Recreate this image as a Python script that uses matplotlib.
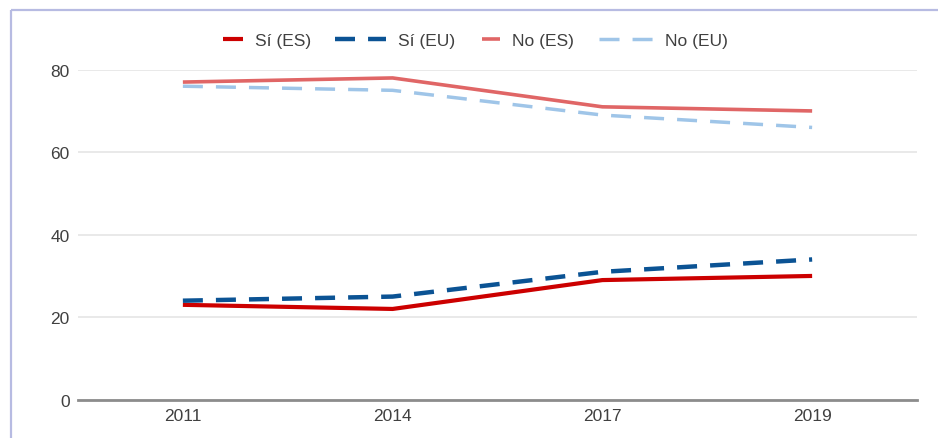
import matplotlib
matplotlib.use("Agg")
import matplotlib.pyplot as plt
from matplotlib.lines import Line2D

plt.rcParams['font.family'] = ['Liberation Sans', 'DejaVu Sans']
plt.rcParams['lines.scale_dashes'] = False

years = ["2011", "2014", "2017", "2019"]
si_es = [23, 22, 29, 30]
si_eu = [24, 25, 31, 34]
no_es = [77, 78, 71, 70]
no_eu = [76, 75, 69, 66]
labels = ["Sí (ES)", "Sí (EU)", "No (ES)", "No (EU)"]
yticks = [0, 20, 40, 60, 80]

W, H = 938, 439
fig = plt.figure(figsize=(W / 100, H / 100), dpi=100)
fig.patch.set_facecolor("white")

ax = fig.add_axes([78 / W, (H - 400.7) / H, (917 - 78) / W, 330 / H])
x = list(range(len(years)))

dash = (0, (14.4, 9.4))
l1, = ax.plot(x, si_es, color="#cc0000", lw=3.0, solid_capstyle="butt", zorder=4)
l2, = ax.plot(x, si_eu, color="#0b5394", lw=3.2, linestyle=dash, zorder=5)
l3, = ax.plot(x, no_es, color="#e06666", lw=2.6, solid_capstyle="butt", zorder=4)
l4, = ax.plot(x, no_eu, color="#9fc5e8", lw=2.5, linestyle=dash, zorder=3)

ax.set_xlim(-0.5, len(years) - 0.5)
ax.set_ylim(0, 80)
ax.set_xticks(x)
ax.set_xticklabels(years)
ax.set_yticks(yticks)
ax.tick_params(axis="both", length=0, labelsize=12.5, labelcolor="#404040")
ax.tick_params(axis="y", pad=6)
ax.tick_params(axis="x", pad=6)
ax.grid(axis="y", color="#e3e3e3", lw=1.1, zorder=0)
ax.set_axisbelow(True)
for s in ["top", "right", "left"]:
    ax.spines[s].set_visible(False)
ax.spines["bottom"].set_color("#8c8c8c")
ax.spines["bottom"].set_linewidth(2.0)
ax.spines["bottom"].set_zorder(6)

# legend: one entry per legend so each handle keeps its own length
fs = 12.5
fs_px = fs * 100 / 72
entries = [(l1, labels[0], 223, 20), (l2, labels[1], 335, 51),
           (l3, labels[2], 482, 18), (l4, labels[3], 599, 54)]
for h, lab, xpx, hl in entries:
    fig.legend(handles=[h], labels=[lab], loc="center left",
               bbox_to_anchor=(xpx / W, 1 - 41 / H), frameon=False,
               handlelength=hl / fs_px, handletextpad=12 / fs_px,
               borderpad=0, borderaxespad=0, fontsize=fs,
               labelcolor="#404040")

# frame lines (top and left of the original screenshot)
fig.add_artist(Line2D([10.5 / W, 10.5 / W], [0, 1 - 11 / H], color="#b7bbe2",
                      lw=1.6, solid_capstyle="butt"))
fig.add_artist(Line2D([10.5 / W, (W - 0.5) / W], [1 - 11 / H, 1 - 11 / H],
                      color="#b7bbe2", lw=1.6, solid_capstyle="butt"))

fig.savefig("out.png", dpi=100, facecolor="white")
